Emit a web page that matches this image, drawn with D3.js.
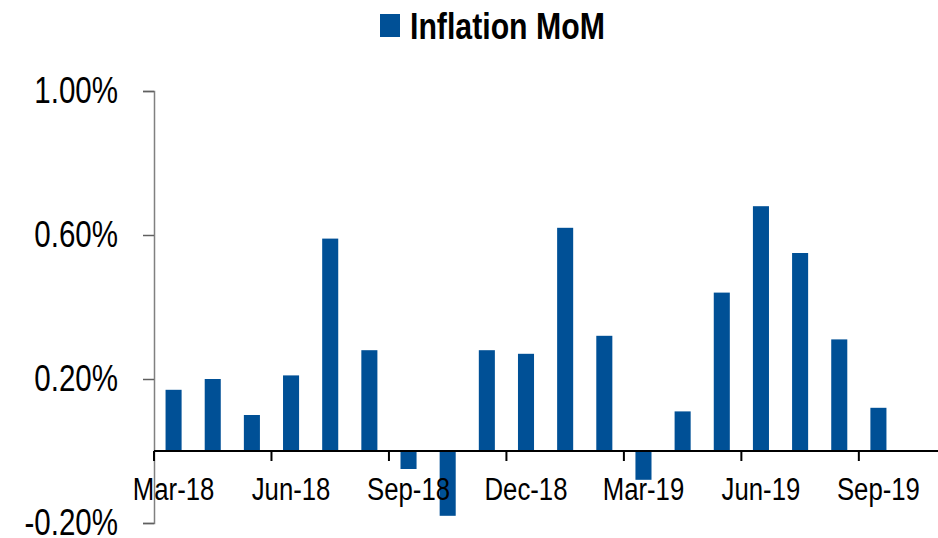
<!DOCTYPE html>
<html>
<head>
<meta charset="utf-8">
<script src="https://cdn.jsdelivr.net/npm/d3@7"></script>
<style>
  body { margin: 0; background: #fff; }
  text { font-family: "Liberation Sans", Arial, sans-serif; }
</style>
</head>
<body>
<div id="chart-area"></div>
<script>
// data
const months = ["Mar-18", "Apr-18", "May-18", "Jun-18", "Jul-18", "Aug-18", "Sep-18", "Oct-18", "Nov-18", "Dec-18",
	"Jan-19", "Feb-19", "Mar-19", "Apr-19", "May-19", "Jun-19", "Jul-19", "Aug-19", "Sep-19"]
const inflationMoM = [0.17, 0.20, 0.10, 0.21, 0.59, 0.28, -0.05, -0.18, 0.28, 0.27,
	0.62, 0.32, -0.08, 0.11, 0.44, 0.68, 0.55, 0.31, 0.12]
const xTickLabels = ["Mar-18", "Jun-18", "Sep-18", "Dec-18", "Mar-19", "Jun-19", "Sep-19"]
const yTicks = [1.00, 0.60, 0.20, -0.20]
const seriesName = "Inflation MoM"

const WIDTH = 938
const HEIGHT = 538
const BLUE = "#005096"

const svg = d3.select("#chart-area").append("svg")
	.attr("width", WIDTH)
	.attr("height", HEIGHT)

// squeeze text horizontally to mimic the narrow font of the original
function narrow(sel, k) {
	sel.each(function() {
		const len = this.getComputedTextLength()
		d3.select(this)
			.attr("textLength", len * k)
			.attr("lengthAdjust", "spacingAndGlyphs")
	})
}

// Scales
const x = d3.scaleBand()
	.domain(months)
	.range([154, 898])
	.paddingInner(0.59)
	.paddingOuter(0.295)
const y = d3.scaleLinear()
	.domain([-0.20, 1.00])
	.range([523, 91])

// Y Axis
const yAxisCall = d3.axisLeft(y)
	.tickValues(yTicks)
	.tickSize(11)
	.tickPadding(25)
	.tickFormat(d => d.toFixed(2) + "%")
const yAxis = svg.append("g")
	.attr("transform", "translate(154, 0)")
	.call(yAxisCall)
yAxis.select(".domain").attr("stroke", "#808080").attr("stroke-width", 1.5)
yAxis.selectAll(".tick line").attr("stroke", "#606060").attr("stroke-width", 1.5)
yAxis.selectAll(".tick text")
	.attr("font-size", "36px")
	.attr("font-family", "Liberation Sans, Arial, sans-serif")
	.attr("fill", "#000")
	.attr("dy", "0.32em")
	.call(narrow, 0.82)

// Bars
svg.selectAll("rect.bar")
	.data(months)
	.enter().append("rect")
	.attr("class", "bar")
	.attr("x", (d) => x(d))
	.attr("width", x.bandwidth())
	.attr("y", (d, i) => y(Math.max(0, inflationMoM[i])))
	.attr("height", (d, i) => Math.abs(y(inflationMoM[i]) - y(0)))
	.attr("fill", BLUE)

// X Axis (zero line, quarter ticks, labels under the month)
const step = x.step()
const zeroY = y(0)
svg.append("line")
	.attr("x1", 154)
	.attr("x2", WIDTH)
	.attr("y1", zeroY)
	.attr("y2", zeroY)
	.attr("stroke", "#000")
	.attr("stroke-width", 2)

svg.selectAll("line.qtick")
	.data(xTickLabels)
	.enter().append("line")
	.attr("class", "qtick")
	.attr("x1", d => x(d) - step * x.paddingInner() / 2)
	.attr("x2", d => x(d) - step * x.paddingInner() / 2)
	.attr("y1", zeroY)
	.attr("y2", zeroY + 10)
	.attr("stroke", "#000")
	.attr("stroke-width", 2)

svg.selectAll("text.xlabel")
	.data(xTickLabels)
	.enter().append("text")
	.attr("class", "xlabel")
	.attr("x", d => x(d) + x.bandwidth() / 2)
	.attr("y", 500)
	.attr("text-anchor", "middle")
	.attr("font-size", "31px")
	.attr("fill", "#000")
	.text(d => d)
	.call(narrow, 0.83)

// Legend
svg.append("rect")
	.attr("x", 380)
	.attr("y", 14)
	.attr("width", 20)
	.attr("height", 23)
	.attr("fill", BLUE)
svg.append("text")
	.attr("x", 410)
	.attr("y", 39)
	.attr("font-size", "36px")
	.attr("font-weight", "bold")
	.attr("fill", "#000")
	.text(seriesName)
	.call(narrow, 0.84)
</script>
</body>
</html>
